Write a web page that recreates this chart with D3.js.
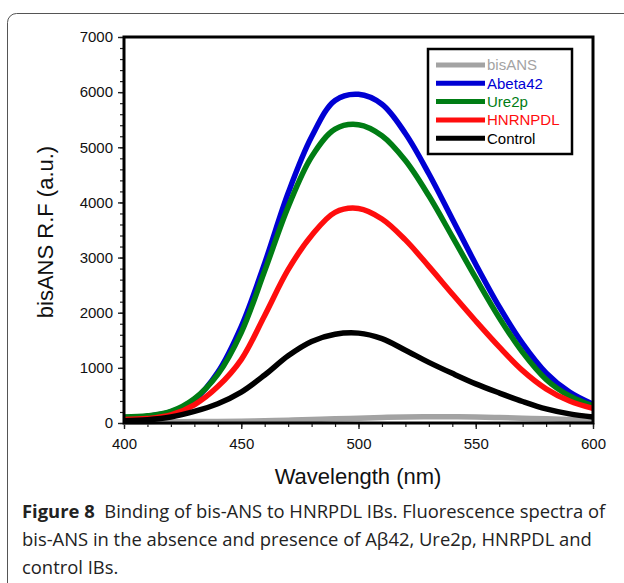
<!DOCTYPE html>
<html>
<head>
<meta charset="utf-8">
<script src="https://cdn.jsdelivr.net/npm/d3@7"></script>
<style>
  html, body { margin: 0; padding: 0; background: #fff; }
  svg { display: block; }
  .tick text { font-family: "Liberation Sans", Arial, sans-serif; font-size: 15px; fill: #111; }
</style>
</head>
<body>
<svg id="chart" width="624" height="583"></svg>
<script>
// emission wavelengths (nm)
const wavelength = [400,410,420,430,440,450,460,470,480,490,500,510,520,530,540,550,560,570,580,590,600];
// fluorescence (a.u.)
const bisANS  = [20,20,22,25,28,32,40,50,62,75,88,100,108,112,112,108,100,88,75,62,50];
const abeta42 = [100,120,200,420,920,1750,2900,4170,5190,5850,5960,5780,5250,4520,3700,2880,2110,1440,910,560,340];
const ure2p   = [110,130,210,440,880,1640,2760,3920,4830,5330,5410,5210,4760,4120,3380,2630,1910,1280,790,490,310];
const hnrnpdl = [65,80,145,330,660,1150,1950,2780,3400,3820,3890,3700,3320,2840,2340,1850,1380,950,620,400,265];
const control = [40,60,110,210,350,560,870,1220,1480,1610,1630,1530,1320,1100,900,710,545,390,255,165,110];

const seriesNames  = ["bisANS","Abeta42","Ure2p","HNRNPDL","Control"];
const seriesValues = [bisANS, abeta42, ure2p, hnrnpdl, control];
const seriesColors = ["#a3a3a3","#0000d4","#007d14","#ff0d0d","#000000"];

const xTicks = [400,450,500,550,600];
const yTicks = [0,1000,2000,3000,4000,5000,6000,7000];

const captionLines = [
  ["Figure 8", "  Binding of bis-ANS to HNRPDL IBs. Fluorescence spectra of"],
  ["", "bis-ANS in the absence and presence of A\u03b242, Ure2p, HNRPDL and"],
  ["", "control IBs."]
];

const svg = d3.select("#chart");

// outer figure frame (clipped by the page edge)
svg.append("rect")
  .attr("x",7.5).attr("y",13.5)
  .attr("width",660).attr("height",640)
  .attr("rx",9).attr("ry",9)
  .attr("fill","none").attr("stroke","#555").attr("stroke-width",1);

const plot = {left:124, top:37, right:593, bottom:423};

const x = d3.scaleLinear().domain([400,600]).range([plot.left, plot.right]);
const y = d3.scaleLinear().domain([0,7000]).range([plot.bottom, plot.top]);

// minor ticks
svg.append("g")
  .attr("transform",`translate(0,${plot.bottom})`)
  .call(d3.axisBottom(x).tickValues(d3.range(400,601,10)).tickSize(4).tickFormat(""))
  .call(g => g.select(".domain").remove())
  .call(g => g.selectAll("line").attr("stroke","#222").attr("stroke-width",1.2));
svg.append("g")
  .attr("transform",`translate(${plot.left},0)`)
  .call(d3.axisLeft(y).tickValues(d3.range(0,7001,200)).tickSize(4).tickFormat(""))
  .call(g => g.select(".domain").remove())
  .call(g => g.selectAll("line").attr("stroke","#222").attr("stroke-width",1.2));

// major ticks + labels
svg.append("g")
  .attr("transform",`translate(0,${plot.bottom})`)
  .call(d3.axisBottom(x).tickValues(xTicks).tickSize(6).tickPadding(9).tickFormat(d3.format("d")))
  .call(g => g.select(".domain").remove())
  .call(g => g.selectAll("line").attr("stroke","#222").attr("stroke-width",1.4));
svg.append("g")
  .attr("transform",`translate(${plot.left},0)`)
  .call(d3.axisLeft(y).tickValues(yTicks).tickSize(6).tickPadding(5).tickFormat(d3.format("d")))
  .call(g => g.select(".domain").remove())
  .call(g => g.selectAll("line").attr("stroke","#222").attr("stroke-width",1.4));

svg.selectAll(".tick text").attr("font-family", null).attr("font-size", null);

// curves
const line = d3.line()
  .x((d,i) => x(wavelength[i]))
  .y(d => y(d))
  .curve(d3.curveCatmullRom.alpha(0.5));

seriesValues.forEach((vals, i) => {
  svg.append("path")
    .datum(vals)
    .attr("d", line)
    .attr("fill","none")
    .attr("stroke", seriesColors[i])
    .attr("stroke-width", 5.5)
    .attr("stroke-linejoin","round");
});

// plot frame
svg.append("rect")
  .attr("x",plot.left).attr("y",plot.top)
  .attr("width",plot.right-plot.left).attr("height",plot.bottom-plot.top)
  .attr("fill","none").attr("stroke","#000").attr("stroke-width",3);

// legend
const legend = svg.append("g");
legend.append("rect")
  .attr("x",428).attr("y",49).attr("width",144).attr("height",105)
  .attr("fill","#fff").attr("stroke","#000").attr("stroke-width",2.5);
seriesNames.forEach((name, i) => {
  const cy = 65 + i*18.3;
  legend.append("line")
    .attr("x1",436).attr("x2",485).attr("y1",cy).attr("y2",cy)
    .attr("stroke",seriesColors[i]).attr("stroke-width",5);
  legend.append("text")
    .attr("x",487).attr("y",cy).attr("dy","0.36em")
    .attr("font-family","Liberation Sans, Arial, sans-serif")
    .attr("font-size",15)
    .attr("fill",seriesColors[i])
    .text(name);
});

// axis titles
svg.append("text")
  .attr("x",358).attr("y",484)
  .attr("text-anchor","middle")
  .attr("font-family","Liberation Sans, Arial, sans-serif")
  .attr("font-size",22).attr("fill","#111")
  .text("Wavelength (nm)");
svg.append("text")
  .attr("transform","translate(53,232) rotate(-90)")
  .attr("text-anchor","middle")
  .attr("font-family","Liberation Sans, Arial, sans-serif")
  .attr("font-size",22).attr("fill","#111")
  .text("bisANS R.F (a.u.)");

// caption
captionLines.forEach((parts, i) => {
  const t = svg.append("text")
    .attr("x",22).attr("y",518 + i*28)
    .attr("font-family","Open Sans, Noto Sans, sans-serif")
    .attr("font-size",18.4).attr("fill","#222")
    .attr("xml:space","preserve");
  if (parts[0]) t.append("tspan").attr("font-weight","bold").text(parts[0]);
  t.append("tspan").text(parts[1]);
});
</script>
</body>
</html>
